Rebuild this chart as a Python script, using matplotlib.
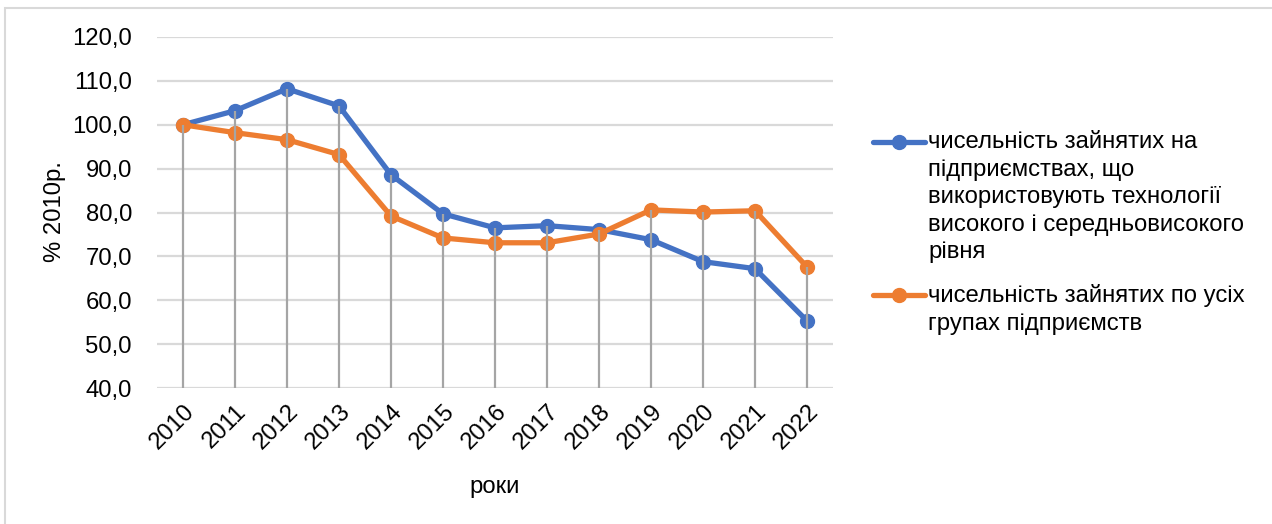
import matplotlib
matplotlib.use("Agg")
import matplotlib.pyplot as plt
from matplotlib.lines import Line2D
from matplotlib.patches import Rectangle

plt.rcParams["font.family"] = ["Liberation Sans", "DejaVu Sans"]

years = ["2010", "2011", "2012", "2013", "2014", "2015", "2016",
         "2017", "2018", "2019", "2020", "2021", "2022"]
high_tech = [100.0, 103.2, 108.2, 104.3, 88.6, 79.7, 76.5, 77.0, 76.1, 73.8, 68.8, 67.2, 55.3]
all_groups = [100.0, 98.2, 96.6, 93.2, 79.2, 74.2, 73.1, 73.1, 75.1, 80.6, 80.1, 80.4, 67.6]
yticks = [40, 50, 60, 70, 80, 90, 100, 110, 120]

label_high = ("чисельність зайнятих на\nпідприємствах, що\nвикористовують технології\n"
              "високого і середньовисокого\nрівня")
label_all = "чисельність зайнятих по усіх\nгрупах підприємств"

BLUE = "#4472C4"
ORANGE = "#ED7D31"
FS = 17.2

W, H = 1272, 524
fig = plt.figure(figsize=(W / 100, H / 100), dpi=100)
ax = fig.add_axes([157 / W, (H - 388) / H, 676 / W, 351 / H])

# chart-area border (only top and left edges fall inside the picture)
fig.patches.append(Rectangle((5 / W, -0.1), 1.2, (H - 8) / H + 0.1, transform=fig.transFigure,
                             fill=False, edgecolor="#D9D9D9", linewidth=1.5))

x = list(range(len(years)))
ax.plot(x, high_tech, color=BLUE, lw=3.8, marker="o", ms=10, zorder=3,
        solid_capstyle="round")
ax.plot(x, all_groups, color=ORANGE, lw=3.8, marker="o", ms=10, zorder=4,
        solid_capstyle="round")
# drop lines from the highest point down to the axis
tops = [max(a, b) for a, b in zip(high_tech, all_groups)]
ax.vlines(x, 40, tops, color="#A5A5A5", lw=1.6, zorder=5)

ax.set_xlim(-0.5, len(years) - 0.5)
ax.set_ylim(40, 120)
ax.set_yticks(yticks)
ax.set_yticklabels([f"{v:.1f}".replace(".", ",") for v in yticks], fontsize=FS)
ax.set_xticks(x)
ax.set_xticklabels(years, fontsize=FS, rotation=45, ha="right", va="top",
                   rotation_mode="anchor")
ax.tick_params(axis="y", length=0, pad=18)
ax.tick_params(axis="x", length=0, pad=9)
ax.grid(axis="y", color="#D9D9D9", lw=1.6)
ax.set_axisbelow(True)
for s in ax.spines.values():
    s.set_visible(False)

fig.text(55 / W, (H - 212) / H, "% 2010р.", rotation=90, fontsize=FS,
         ha="center", va="center")
fig.text(495 / W, (H - 487) / H, "роки", fontsize=FS, ha="center", va="center")

# legend drawn by hand so the marker sits next to the first line of text
for color, label, ytop in [(BLUE, label_high, 131), (ORANGE, label_all, 284)]:
    yc = (H - ytop - 11) / H
    fig.add_artist(Line2D([873 / W, 925 / W], [yc, yc], transform=fig.transFigure,
                          color=color, lw=3.8, solid_capstyle="round"))
    fig.add_artist(Line2D([899 / W], [yc], transform=fig.transFigure, color=color,
                          marker="o", ms=10))
    fig.text(928 / W, (H - ytop) / H, label, fontsize=FS, ha="left", va="top",
             linespacing=1.33)

fig.savefig("out.png", dpi=100)
